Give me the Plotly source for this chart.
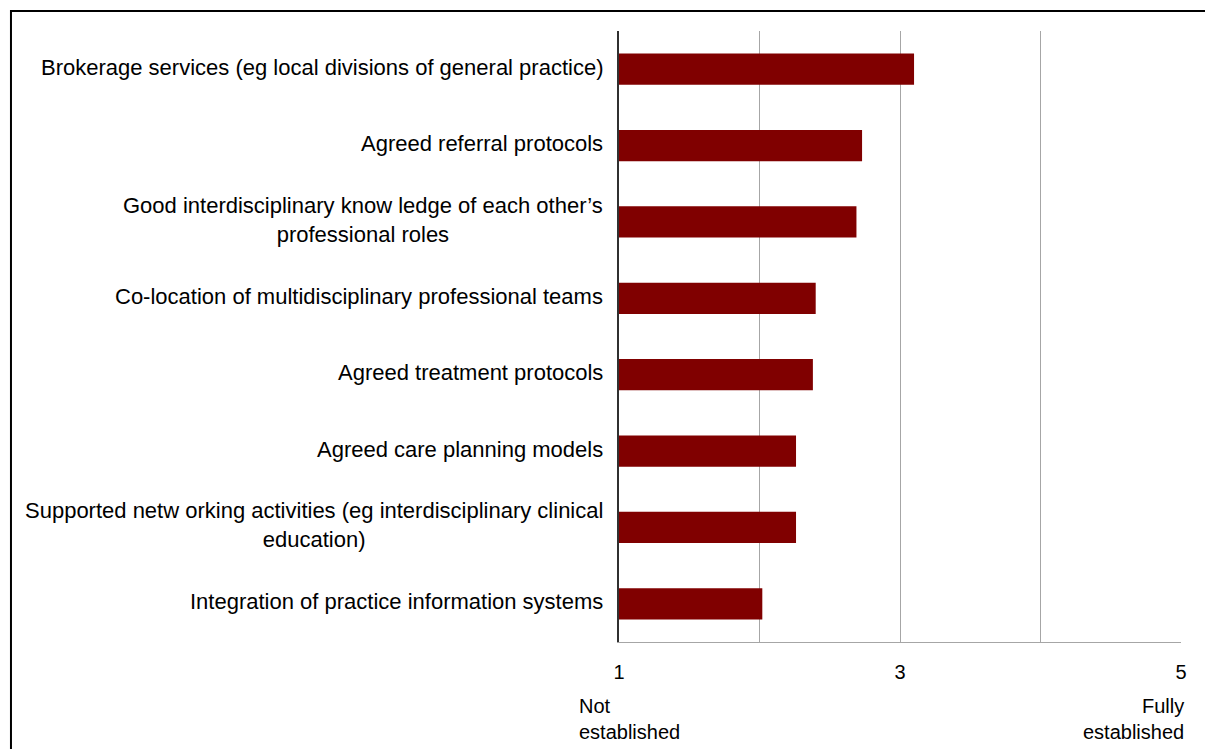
import plotly.graph_objects as go

# Survey items (top to bottom) and their mean ratings on a 1-5 scale
items = [
    "Brokerage services (eg local divisions of general practice)",
    "Agreed referral protocols",
    "Good interdisciplinary know ledge of each other\u2019s<br>professional roles",
    "Co-location of multidisciplinary professional teams",
    "Agreed treatment protocols",
    "Agreed care planning models",
    "Supported netw orking activities (eg interdisciplinary clinical<br>education)",
    "Integration of practice information systems",
]
ratings = [3.10, 2.73, 2.69, 2.40, 2.38, 2.26, 2.26, 2.02]

scale_ticks = [1, 2, 3, 4, 5]
scale_text = ["1", "", "3", "", "5"]

FONT = "Liberation Sans, Arial, sans-serif"

positions = list(range(len(items)))

fig = go.Figure(
    go.Bar(
        x=[r - 1 for r in ratings],
        base=1,
        y=positions,
        orientation="h",
        marker=dict(color="#800000", line=dict(width=0)),
        width=0.41,
        hoverinfo="skip",
    )
)

# category labels, right-aligned against the axis with centred wrapped lines
for pos, label in zip(positions, items):
    fig.add_annotation(
        x=0, xref="paper", y=pos, yref="y",
        text=label, showarrow=False,
        xanchor="right", xshift=-14, yshift=2, align="center",
        font=dict(family=FONT, size=22, color="#000000"),
    )

# scale end descriptions
fig.add_annotation(
    x=1, xref="x", y=-0.083, yref="paper", text="Not<br>established",
    showarrow=False, xanchor="left", yanchor="top", xshift=-42, align="left",
    font=dict(family=FONT, size=20, color="#000000"),
)
fig.add_annotation(
    x=5, xref="x", y=-0.083, yref="paper", text="Fully<br>established",
    showarrow=False, xanchor="right", yanchor="top", xshift=5, align="right",
    font=dict(family=FONT, size=20, color="#000000"),
)

# outer frame
fig.add_shape(
    type="rect", xref="paper", yref="paper",
    x0=-1.0819, x1=1.07, y0=-0.2, y1=1.0327,
    line=dict(color="#000000", width=2), fillcolor="rgba(0,0,0,0)",
)

fig.update_layout(
    width=1205, height=749,
    margin=dict(l=619, r=24, t=31, b=107),
    paper_bgcolor="#ffffff", plot_bgcolor="#ffffff",
    showlegend=False,
    xaxis=dict(
        range=[1, 5], tickvals=scale_ticks, ticktext=scale_text,
        showgrid=True, gridcolor="#a6a6a6", gridwidth=1,
        showline=True, linecolor="#a6a6a6", linewidth=1,
        ticks="", zeroline=False, ticklabelstandoff=12,
        tickfont=dict(family=FONT, size=20, color="#000000"),
    ),
    yaxis=dict(
        range=[len(items) - 0.5, -0.5],
        showticklabels=False, showgrid=False, zeroline=False,
        showline=True, linecolor="#303030", linewidth=1.5, ticks="",
    ),
)

fig.write_html("out.html")
